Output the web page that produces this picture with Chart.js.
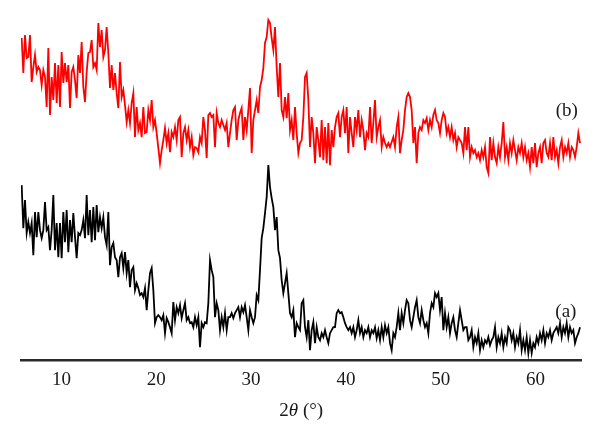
<!DOCTYPE html>
<html>
<head>
<meta charset="utf-8">
<script src="https://cdn.jsdelivr.net/npm/chart.js@4/dist/chart.umd.min.js"></script>
<style>
  html, body { margin: 0; padding: 0; background: #fff; }
  #wrap { width: 600px; height: 446px; }
</style>
</head>
<body>
<div id="wrap"><canvas id="xrdChart" width="600" height="446"></canvas></div>
<script>
// scan grid (2theta, degrees)
const twoThetaStart = 5.8;
const twoThetaStep = 0.1758;

// x-axis tick labels
const tickValues = [10, 20, 30, 40, 50, 60];

// pattern (a), black, intensity a.u.
const intensityA = [
  175,132,160,127,138,127,137,105,148,123,
  148,130,122,130,158,130,133,110,130,165,
  110,137,103,137,102,148,118,150,108,140,
  118,147,123,102,127,125,130,140,122,165,
  125,150,118,153,120,155,128,143,132,143,
  123,115,148,95,113,117,103,100,83,103,
  107,92,108,87,100,73,90,93,70,77,
  72,65,67,63,72,50,70,87,92,70,
  37,43,45,43,40,45,27,42,38,33,
  27,58,40,53,47,55,42,50,57,40,
  43,37,38,33,43,35,43,13,37,33,
  38,37,57,100,90,83,43,57,50,30,
  43,33,47,30,43,43,47,42,47,50,
  53,43,53,48,55,43,30,50,43,37,
  43,65,60,90,122,132,147,163,195,173,
  162,153,130,143,110,102,80,67,77,87,
  67,47,43,50,23,37,33,30,
  57,60,33,23,40,10,30,38,17,33,
  23,20,27,23,30,23,17,27,30,33,
  33,47,50,47,48,43,37,33,30,33,
  27,33,23,30,40,27,33,23,30,27,
  33,23,30,27,33,22,30,20,33,23,
  35,27,33,17,10,27,23,33,47,30,
  47,37,50,60,57,40,33,43,53,60,
  43,37,50,40,33,37,27,47,57,53,
  67,63,67,50,63,30,47,33,43,27,
  37,43,30,23,37,50,40,30,33,33,
  20,23,30,13,23,17,27,10,20,13,
  20,17,23,15,20,23,33,13,23,17,
  27,13,23,17,33,30,20,27,13,23,
  17,30,10,20,10,23,7,20,7,17,
  13,23,17,27,20,30,17,27,23,30,
  20,27,30,33,27,37,23,33,27,37,
  23,33,27,30,17,23,27,33
];

// pattern (b), red, intensity a.u. (plotted with offset)
const intensityB = [
  152,117,155,132,133,155,108,123,135,118,
  123,120,105,120,113,83,142,75,113,90,
  127,87,125,83,138,107,127,108,125,82,
  118,123,110,92,135,117,148,103,88,118,
  137,138,150,123,127,120,167,143,160,133,
  140,163,137,102,125,100,117,97,82,128,
  93,100,85,68,80,67,87,97,53,83,
  60,67,53,83,57,58,80,70,90,63,
  70,57,42,27,40,50,62,47,57,38,
  58,53,63,50,70,73,33,57,63,50,
  60,43,53,35,43,42,38,53,47,73,
  60,32,75,77,73,75,43,77,67,63,
  70,65,60,67,43,57,70,80,83,50,
  70,77,82,50,73,60,80,102,37,70,
  80,90,77,103,110,122,147,153,170,167,
  152,140,163,123,93,127,80,73,93,72,
  97,60,70,50,83,57,37,47,
  50,73,113,117,90,43,73,57,27,63,
  50,33,70,30,63,27,67,25,60,43,
  63,73,77,53,73,80,57,83,37,73,
  57,43,73,60,80,53,70,60,40,57,
  53,83,47,67,90,53,63,70,43,53,
  47,43,47,43,48,53,43,63,73,37,
  50,60,80,93,97,93,80,47,63,27,
  57,63,60,70,67,72,60,70,63,75,
  80,70,67,57,70,77,73,57,63,53,
  63,50,57,43,53,50,47,37,63,40,
  63,33,43,37,40,33,37,30,40,33,
  43,23,17,53,30,47,33,27,43,33,
  47,68,33,43,30,47,37,50,40,30,
  43,37,47,33,43,30,37,23,43,27,
  47,23,37,43,27,47,50,37,33,47,
  30,53,33,40,27,43,50,33,43,37,
  47,33,43,40,33,43,57,47
];

const offsetB = 170;

const toPoints = (values, offset) =>
  values.map((v, i) => ({ x: twoThetaStart + i * twoThetaStep, y: v + offset }));

// curve labels (a) / (b)
const curveLabels = [
  { text: '(b)', x: 63.3, y: 249 },
  { text: '(a)', x: 63.2, y: 48 }
];

const serif = '"Liberation Serif", "DejaVu Serif", serif';

const xrdDecor = {
  id: 'xrdDecor',
  afterDraw(chart) {
    const { ctx, scales: { x, y } } = chart;
    ctx.save();
    ctx.fillStyle = '#1a1a1a';
    ctx.textBaseline = 'middle';
    ctx.textAlign = 'center';
    ctx.font = '19px ' + serif;
    curveLabels.forEach(l => {
      ctx.fillText(l.text, x.getPixelForValue(l.x), y.getPixelForValue(l.y));
    });

    // axis title: 2θ (°) with italic theta
    const parts = [
      { t: '2', f: '19px ' + serif },
      { t: 'θ', f: 'italic 19px ' + serif },
      { t: ' (°)', f: '19px ' + serif }
    ];
    let total = 0;
    parts.forEach(p => { ctx.font = p.f; p.w = ctx.measureText(p.t).width; total += p.w; });
    let cx = (chart.chartArea.left + chart.chartArea.right) / 2 - total / 2;
    const ty = x.bottom + 12;
    ctx.textAlign = 'left';
    parts.forEach(p => { ctx.font = p.f; ctx.fillText(p.t, cx, ty); cx += p.w; });
    ctx.restore();
  }
};

new Chart(document.getElementById('xrdChart'), {
  type: 'line',
  data: {
    datasets: [
      {
        label: '(a)',
        data: toPoints(intensityA, 0),
        borderColor: '#000000',
        borderWidth: 1.8
      },
      {
        label: '(b)',
        data: toPoints(intensityB, offsetB),
        borderColor: '#ff0000',
        borderWidth: 1.8
      }
    ]
  },
  options: {
    responsive: false,
    animation: false,
    layout: { padding: { left: 21, right: 18.5, top: 0, bottom: 47 } },
    elements: { point: { radius: 0 }, line: { tension: 0 } },
    scales: {
      x: {
        type: 'linear',
        min: 5.73,
        max: 64.85,
        afterBuildTicks: (scale) => { scale.ticks = tickValues.map(v => ({ value: v })); },
        grid: { display: false, drawTicks: false },
        border: { display: true, color: '#2a2a2a', width: 2.5 },
        ticks: {
          color: '#1a1a1a',
          padding: 8,
          maxRotation: 0,
          font: { family: serif, size: 19 }
        }
      },
      y: { display: false, min: 0, max: 360 }
    },
    plugins: {
      legend: { display: false },
      tooltip: { enabled: false }
    }
  },
  plugins: [xrdDecor]
});
</script>
</body>
</html>
